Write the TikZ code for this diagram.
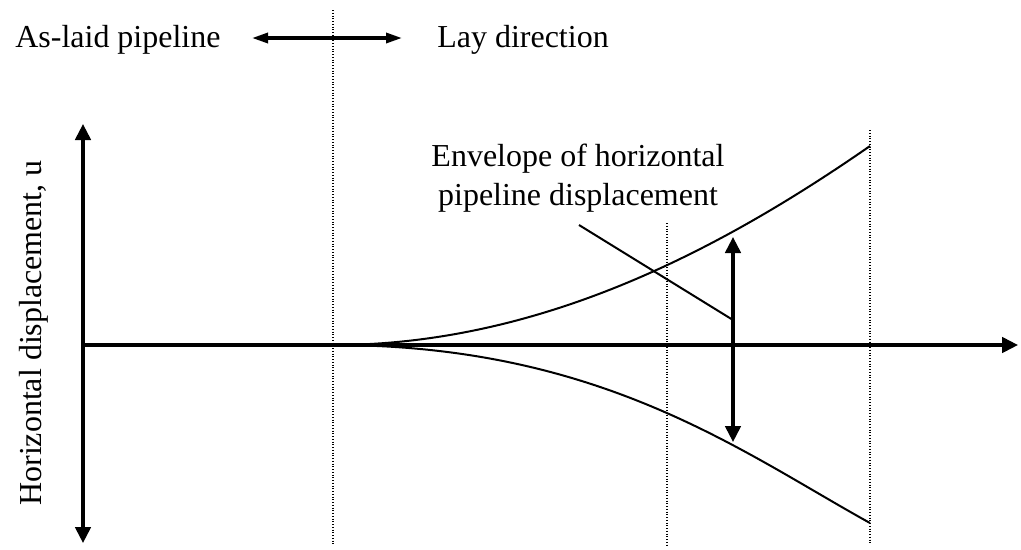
\documentclass[tikz,border=0pt]{standalone}
\usepackage{fontspec}
\setmainfont{Liberation Serif}
\usetikzlibrary{arrows.meta}

\begin{document}
\begin{tikzpicture}[x=.02cm,y=-.02cm,
  axis/.style={line width=.065cm,-{Triangle[length=.32cm,width=.31cm]}},
  dirarrow/.style={line width=.065cm,{Triangle[length=.32cm,width=.2cm]}-{Triangle[length=.32cm,width=.2cm]}},
  envcurve/.style={line width=.04cm},
  guide/.style={line width=.025cm,dash pattern=on .02cm off .035cm},
  lbl/.style={font=\fontsize{18.2}{22.2}\selectfont,inner sep=0pt}]
\useasboundingbox (0,0) rectangle (1021,549);

% lay direction
\node[lbl,anchor=base west] (laid) at (15,47) {As-laid pipeline};
\node[lbl,anchor=base west] (laydir) at (437,47) {Lay direction};
\coordinate (dirL) at (252,38);
\coordinate (dirR) at (402,38);
\draw[dirarrow] (dirL) -- (dirR);

% vertical guides
\foreach \x/\y in {333/10,667/223,870/130}
  \draw[guide] (\x,\y) -- (\x,545);

% axes
\coordinate (o) at (83,345);
\coordinate (utop) at (83,124);
\coordinate (ubot) at (83,543);
\coordinate (xend) at (1018,345);
\draw[axis] (o) -- (utop);
\draw[axis] (o) -- (ubot);
\draw[axis] (o) -- (xend);
\node[lbl,anchor=base,rotate=90] (ulabel) at (41,333) {Horizontal displacement, u};

% envelope
\draw[envcurve] (o) -- (333,345) .. controls (540,345) and (720,250) .. (870,146);
\draw[envcurve] (o) -- (333,345) .. controls (600,345) and (740,451) .. (870,523);

% displacement range
\coordinate (rmid) at (733,345);
\coordinate (rtop) at (733,237);
\coordinate (rbot) at (733,442);
\draw[axis] (rmid) -- (rtop);
\draw[axis] (rmid) -- (rbot);

\node[lbl,align=center,anchor=base] (env) at (578,205) {Envelope of horizontal\\pipeline displacement};
\coordinate (leadA) at (579,225);
\coordinate (leadB) at (733,320);
\draw[envcurve] (leadA) -- (leadB);
\end{tikzpicture}
\end{document}
